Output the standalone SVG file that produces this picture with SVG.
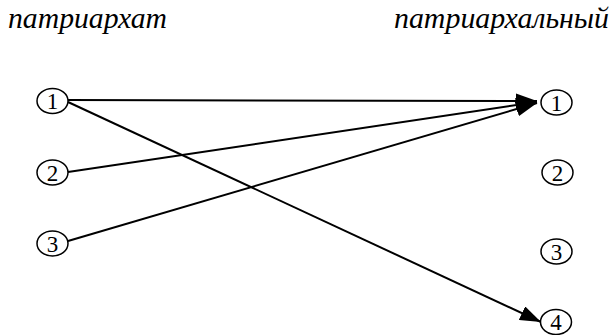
<svg xmlns="http://www.w3.org/2000/svg" width="616" height="335" viewBox="0 0 616 335">
<style>
.title{font-family:"Liberation Serif","DejaVu Serif",serif;font-style:italic;font-size:30px;fill:#000}
.node ellipse{fill:#fff;stroke:#000;stroke-width:1.5}
.node text{font-family:"Liberation Serif","DejaVu Serif",serif;font-size:23px;fill:#000;text-anchor:middle}
.edges line{stroke:#000;stroke-width:2}
</style>
<defs>
<marker id="ah" viewBox="0 0 21 15" refX="21" refY="7.5" markerWidth="21" markerHeight="15" markerUnits="userSpaceOnUse" orient="auto">
<path d="M0,0 L21,7.5 L0,15 Z" fill="#000"/>
</marker>
</defs>
<rect width="616" height="335" fill="#fff"/>
<text class="title" x="8" y="28" textLength="159" lengthAdjust="spacingAndGlyphs">патриархат</text>
<text class="title" x="394" y="28" textLength="215" lengthAdjust="spacingAndGlyphs">патриархальный</text>
<g class="edges">
<line x1="68" y1="100" x2="537" y2="101" marker-end="url(#ah)"/>
<line x1="68" y1="172" x2="537" y2="102" marker-end="url(#ah)"/>
<line x1="68" y1="241" x2="537" y2="103" marker-end="url(#ah)"/>
<line x1="68" y1="102" x2="541" y2="322" marker-end="url(#ah)"/>
</g>
<g id="L1" class="node"><ellipse cx="52.5" cy="101" rx="15.5" ry="12.5"/><text x="52.5" y="109">1</text></g>
<g id="L2" class="node"><ellipse cx="52.5" cy="172.5" rx="15.5" ry="12.5"/><text x="52.5" y="180.5">2</text></g>
<g id="L3" class="node"><ellipse cx="52.5" cy="243.5" rx="15.5" ry="12.5"/><text x="52.5" y="251.5">3</text></g>
<g id="R1" class="node"><ellipse cx="556.5" cy="102.5" rx="15.5" ry="12.5"/><text x="556.5" y="110.5">1</text></g>
<g id="R2" class="node"><ellipse cx="557.5" cy="172.5" rx="15.5" ry="12.5"/><text x="557.5" y="180.5">2</text></g>
<g id="R3" class="node"><ellipse cx="556.5" cy="251.5" rx="15.5" ry="12.5"/><text x="556.5" y="259.5">3</text></g>
<g id="R4" class="node"><ellipse cx="556" cy="322" rx="15.5" ry="12.5"/><text x="556" y="330">4</text></g>
</svg>
